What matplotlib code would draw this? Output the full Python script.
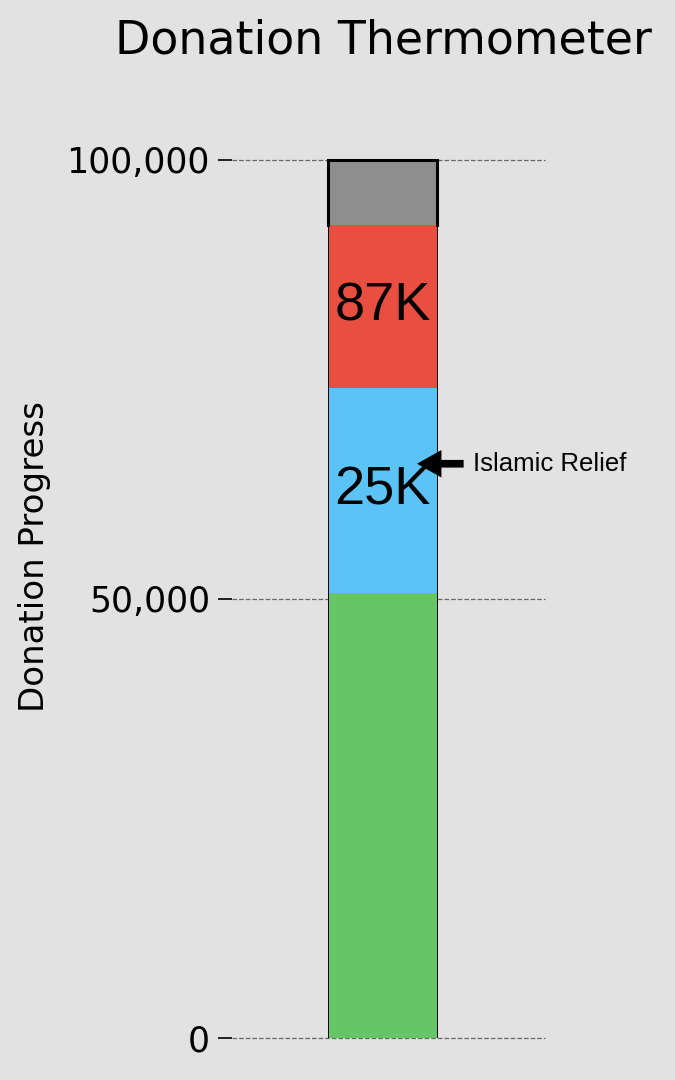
import matplotlib
matplotlib.use("Agg")
import matplotlib.pyplot as plt
from matplotlib.ticker import FuncFormatter

# stacked pieces of the thermometer, bottom to top
goal = 100000
seg_names = ["base", "Islamic Relief", "other", "remaining"]
seg_values = [50700, 23300, 18600, 7400]
seg_colors = ["#66c566", "#5bc3f6", "#e84f40", "#8e8e8e"]
seg_labels = ["", "25K", "87K", ""]
yticks = [0, 50000, 100000]
arrow_value = 65400
arrow_text = "Islamic Relief"

bg = "#e2e2e2"
fig = plt.figure(figsize=(6.75, 10.8), dpi=100, facecolor=bg)
ax = fig.add_axes([0.344, 0.0389, 0.464, 0.813], facecolor=bg)

half = 0.175
bottom = 0
for v, c, lab in zip(seg_values, seg_colors, seg_labels):
    ax.bar(0, v, bottom=bottom, width=2 * half, color=c, linewidth=0,
           zorder=3, clip_on=False)
    if lab:
        ax.text(0, bottom + v / 2, lab, ha="center", va="center",
                fontsize=39, family="Liberation Sans", zorder=4)
    bottom += v

# outline: thin sides along the bar, thick frame round the empty top part
top_start = goal - seg_values[-1]
ax.plot([-half, -half], [0, goal], color="black", lw=0.7, zorder=3.5)
ax.plot([half, half], [0, goal], color="black", lw=0.7, zorder=3.5)
ax.plot([-half, -half, half, half], [top_start, goal, goal, top_start],
        color="black", lw=2.2, zorder=3.6, clip_on=False,
        solid_joinstyle="miter")

ax.annotate(arrow_text, xy=(0.11, arrow_value), xytext=(0.29, arrow_value),
            va="center", ha="left", fontsize=18.5, family="Liberation Sans",
            arrowprops=dict(arrowstyle="simple,head_length=0.8,head_width=0.9,tail_width=0.25",
                            fc="black", ec="none", mutation_scale=22,
                            shrinkA=5, shrinkB=0),
            zorder=5)

ax.set_xlim(-0.48, 0.52)
ax.set_ylim(0, goal)
ax.set_xticks([])
ax.set_yticks(yticks)
ax.yaxis.set_major_formatter(FuncFormatter(lambda v, p: f"{int(v):,}"))
ax.tick_params(axis="y", length=10, width=1.2, labelsize=25, pad=6)
for s in ax.spines.values():
    s.set_visible(False)
ax.grid(axis="y", linestyle="--", color="#666666", lw=0.9, zorder=1)
for gl in ax.get_ygridlines():
    gl.set_clip_on(False)
for tl in ax.get_yticklines():
    tl.set_clip_on(False)

fig.text(35 / 675, 1 - 557 / 1080, "Donation Progress", rotation=90,
         ha="center", va="center", fontsize=24.5)
fig.text(0.568, 0.962, "Donation Thermometer", ha="center", va="center",
         fontsize=33)

fig.savefig("out.png", dpi=100, facecolor=bg)
